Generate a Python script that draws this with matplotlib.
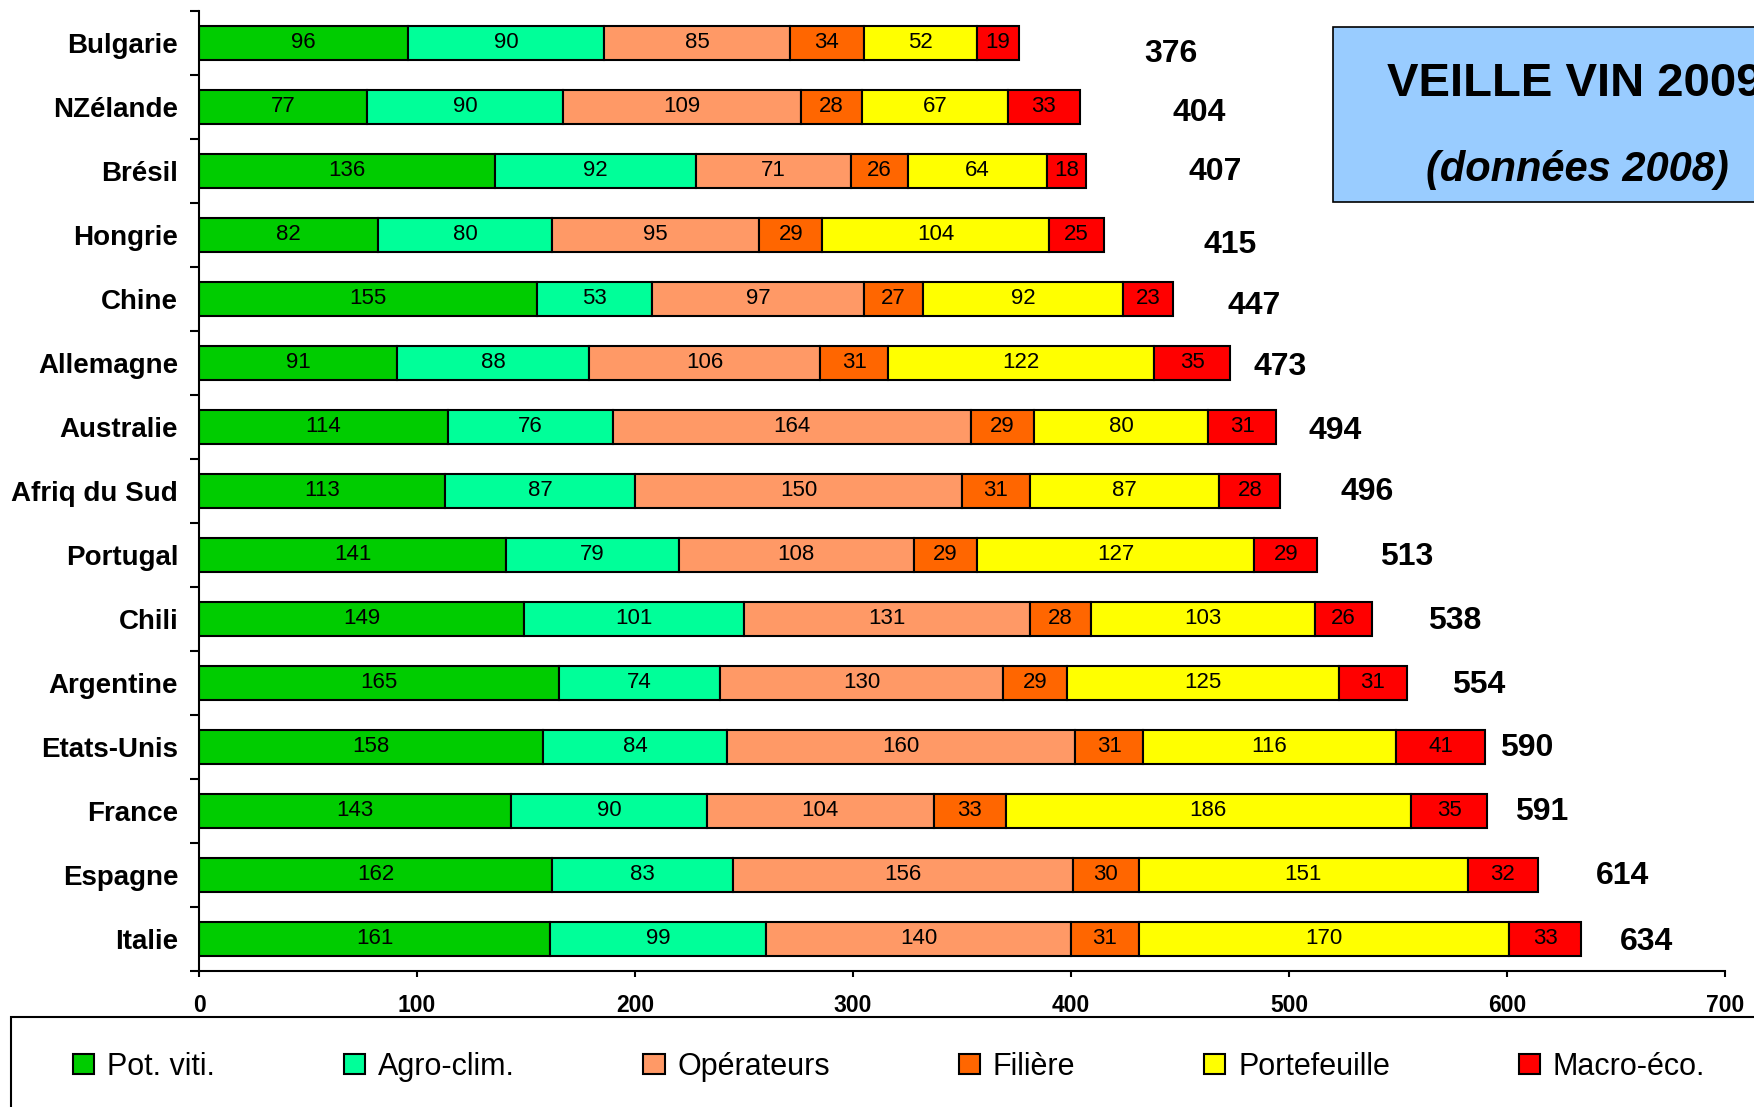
import matplotlib
matplotlib.use("Agg")
import matplotlib.pyplot as plt
from matplotlib.patches import Rectangle, Patch
import numpy as np

plt.rcParams['font.family'] = ['Liberation Sans', 'DejaVu Sans']

countries = ["Bulgarie", "NZélande", "Brésil", "Hongrie", "Chine", "Allemagne",
             "Australie", "Afriq du Sud", "Portugal", "Chili", "Argentine",
             "Etats-Unis", "France", "Espagne", "Italie"]
series_names = ["Pot. viti.", "Agro-clim.", "Opérateurs", "Filière", "Portefeuille", "Macro-éco."]
pot_viti = [96, 77, 136, 82, 155, 91, 114, 113, 141, 149, 165, 158, 143, 162, 161]
agro_clim = [90, 90, 92, 80, 53, 88, 76, 87, 79, 101, 74, 84, 90, 83, 99]
operateurs = [85, 109, 71, 95, 97, 106, 164, 150, 108, 131, 130, 160, 104, 156, 140]
filiere = [34, 28, 26, 29, 27, 31, 29, 31, 29, 28, 29, 31, 33, 30, 31]
portefeuille = [52, 67, 64, 104, 92, 122, 80, 87, 127, 103, 125, 116, 186, 151, 170]
macro_eco = [19, 33, 18, 25, 23, 35, 31, 28, 29, 26, 31, 41, 35, 32, 33]
x_ticks = [0, 100, 200, 300, 400, 500, 600, 700]

# placement of the total labels (data units, as in the original manual layout)
total_label_x = [446, 459, 466, 473, 484, 496, 521, 536, 554, 576, 587, 609, 616, 653, 664]
total_label_dy = [0.17, 0.1, 0.02, 0.16, 0.11, 0.06, 0.07, 0.02, 0.03, 0.03, 0.03, 0.02, 0.02, 0.02, 0.05]

colors = ["#00CC00", "#00FF99", "#FF9966", "#FF6600", "#FFFF00", "#FF0000"]

W, H = 1754, 1107
fig = plt.figure(figsize=(W / 100, H / 100), dpi=100)
ax = fig.add_axes([199 / W, 1 - 971 / H, (1725 - 199) / W, (971 - 11) / H])

series = [pot_viti, agro_clim, operateurs, filiere, portefeuille, macro_eco]
y = np.arange(len(countries))
left = np.zeros(len(countries))
for vals, col, name in zip(series, colors, series_names):
    vals = np.array(vals, dtype=float)
    ax.barh(y, vals, left=left, height=0.53, color=col,
            edgecolor="black", linewidth=1.5, label=name)
    for yi, l, v in zip(y, left, vals):
        ax.text(l + v / 2, yi, f"{int(v)}", ha="center", va="center",
                fontsize=16, color="black")
    left += vals

totals = left
for yi, t, tx, dy in zip(y, totals, total_label_x, total_label_dy):
    ax.text(tx, yi + dy, f"{int(t)}", ha="center", va="center",
            fontsize=23, fontweight="bold", color="black")

ax.set_xlim(0, 700)
ax.set_ylim(len(countries) - 0.5, -0.5)
ax.set_xticks(x_ticks)
ax.set_xticklabels([str(v) for v in x_ticks], fontsize=16.5, fontweight="bold")
ax.set_yticks(y)
ax.set_yticklabels(countries, fontsize=20, fontweight="bold")
ax.set_yticks(np.arange(-0.5, len(countries), 1.0), minor=True)
ax.tick_params(axis="y", which="major", length=0, pad=15)
ax.tick_params(axis="y", which="minor", length=6.5, width=1.5, direction="out")
ax.tick_params(axis="x", which="major", length=4.5, width=1.5, direction="out", pad=12)
for s in ["top", "right"]:
    ax.spines[s].set_visible(False)
for s in ["left", "bottom"]:
    ax.spines[s].set_linewidth(1.5)

# title box
fig.patches.append(Rectangle((1333 / W, 1 - 202 / H), (1950 - 1333) / W, (202 - 27) / H,
                             transform=fig.transFigure, facecolor="#99CCFF",
                             edgecolor="black", linewidth=1.2, zorder=0))
fig.text(1387 / W, 1 - 84 / H, "VEILLE VIN 2009", ha="left", va="center",
         fontsize=34, fontweight="bold")
fig.text(1577 / W, 1 - 170 / H, "(données 2008)", ha="center", va="center",
         fontsize=30, fontweight="bold", fontstyle="italic")

# legend box
fig.patches.append(Rectangle((11 / W, -0.1), (1950 - 11) / W, 0.1 + (1107 - 1017) / H,
                             transform=fig.transFigure, facecolor="white",
                             edgecolor="black", linewidth=1.5, zorder=0))
handles = [Patch(facecolor=c, edgecolor="black", linewidth=1.5) for c in colors]
fig.legend(handles, series_names, loc="center left",
           bbox_to_anchor=(73 / W, 1 - 1067 / H), ncol=6, frameon=False,
           fontsize=22, handlelength=0.69, handleheight=0.65,
           handletextpad=0.42, columnspacing=4.22, borderpad=0, borderaxespad=0)

fig.savefig("out.png", dpi=100)
